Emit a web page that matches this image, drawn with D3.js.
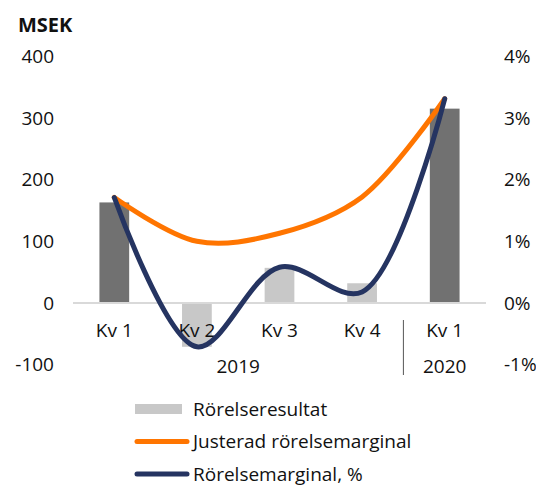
<!DOCTYPE html>
<html>
<head>
<meta charset="utf-8">
<script src="https://cdn.jsdelivr.net/npm/d3@7"></script>
<style>
  body { margin: 0; background: #fff; }
  svg { display: block; font-family: "Open Sans", Lato, sans-serif; }
</style>
</head>
<body>
<div id="chart"></div>
<script>
const quarters = ['Kv 1', 'Kv 2', 'Kv 3', 'Kv 4', 'Kv 1 '];
const years = [
  { label: '2019', from: 0, to: 3 },
  { label: '2020', from: 4, to: 4 }
];
const rorelseresultat = [163, -71, 57, 32, 315];
const justeradMarginal = [1.71, 1.0, 1.13, 1.72, 3.31];
const rorelseMarginal = [1.71, -0.71, 0.58, 0.18, 3.31];
const leftTicks = [-100, 0, 100, 200, 300, 400];
const rightTicks = [-1, 0, 1, 2, 3, 4];

const width = 536, height = 486;

const svg = d3.select('#chart')
  .append('svg')
  .attr('width', width)
  .attr('height', height);

const x = d3.scaleBand()
  .domain(d3.range(quarters.length))
  .range([73, 486])
  .paddingInner(0.64)
  .paddingOuter(0.32);

const y = d3.scaleLinear().domain([-100, 400]).range([364.7, 56.2]);
const y2 = d3.scaleLinear().domain([-1, 4]).range([364.7, 56.2]);

const cx = i => x(i) + x.bandwidth() / 2;

// bars
svg.append('g')
  .selectAll('rect')
  .data(rorelseresultat)
  .join('rect')
  .attr('x', (d, i) => x(i))
  .attr('width', x.bandwidth())
  .attr('y', d => y(Math.max(0, d)))
  .attr('height', d => Math.abs(y(d) - y(0)))
  .attr('fill', (d, i) => (i === 0 || i === 4) ? '#717171' : '#c8c8c8');

// zero line
svg.append('line')
  .attr('x1', 73).attr('x2', 486)
  .attr('y1', y(0)).attr('y2', y(0))
  .attr('stroke', '#d9d9d9')
  .attr('stroke-width', 2);

// left axis
svg.append('g')
  .selectAll('text')
  .data(leftTicks)
  .join('text')
  .attr('x', 54)
  .attr('y', d => y(d))
  .attr('dy', '0.35em')
  .attr('text-anchor', 'end')
  .attr('font-size', 19)
  .attr('fill', '#111')
  .text(d => d);

// right axis
svg.append('g')
  .selectAll('text')
  .data(rightTicks)
  .join('text')
  .attr('x', 504)
  .attr('y', d => y2(d))
  .attr('dy', '0.35em')
  .attr('text-anchor', 'start')
  .attr('font-size', 19)
  .attr('fill', '#111')
  .text(d => d + '%');

svg.append('text')
  .attr('x', 18)
  .attr('y', 25)
  .attr('dy', '0.35em')
  .attr('font-size', 20)
  .attr('font-weight', 'bold')
  .attr('fill', '#111')
  .text('MSEK');

// category labels
svg.append('g')
  .selectAll('text')
  .data(quarters)
  .join('text')
  .attr('x', (d, i) => cx(i))
  .attr('y', 330)
  .attr('dy', '0.35em')
  .attr('text-anchor', 'middle')
  .attr('font-size', 19)
  .attr('fill', '#111')
  .text(d => d.trim());

svg.append('g')
  .selectAll('text')
  .data(years)
  .join('text')
  .attr('x', d => (cx(d.from) + cx(d.to)) / 2)
  .attr('y', 366)
  .attr('dy', '0.35em')
  .attr('text-anchor', 'middle')
  .attr('font-size', 19)
  .attr('fill', '#111')
  .text(d => d.label);

svg.append('line')
  .attr('x1', (cx(3) + cx(4)) / 2).attr('x2', (cx(3) + cx(4)) / 2)
  .attr('y1', 320).attr('y2', 375)
  .attr('stroke', '#555')
  .attr('stroke-width', 1);

// lines
const line = d3.line()
  .x((d, i) => cx(i))
  .y(d => y2(d))
  .curve(d3.curveCatmullRom.alpha(0.5));

svg.append('path')
  .datum(justeradMarginal)
  .attr('d', line)
  .attr('fill', 'none')
  .attr('stroke', '#ff7500')
  .attr('stroke-width', 5)
  .attr('stroke-linecap', 'round');

svg.append('path')
  .datum(rorelseMarginal)
  .attr('d', line)
  .attr('fill', 'none')
  .attr('stroke', '#253461')
  .attr('stroke-width', 5)
  .attr('stroke-linecap', 'round');

// legend
const legend = [
  { label: 'Rörelseresultat', type: 'bar', color: '#c8c8c8' },
  { label: 'Justerad rörelsemarginal', type: 'line', color: '#ff7500' },
  { label: 'Rörelsemarginal, %', type: 'line', color: '#253461' }
];
const lg = svg.append('g')
  .selectAll('g')
  .data(legend)
  .join('g')
  .attr('transform', (d, i) => `translate(135,${409 + i * 32.5})`);

lg.filter(d => d.type === 'bar')
  .append('rect')
  .attr('x', 0).attr('y', -5)
  .attr('width', 47).attr('height', 10)
  .attr('fill', d => d.color);

lg.filter(d => d.type === 'line')
  .append('line')
  .attr('x1', 2).attr('x2', 52)
  .attr('y1', 0).attr('y2', 0)
  .attr('stroke', d => d.color)
  .attr('stroke-width', 5)
  .attr('stroke-linecap', 'round');

lg.append('text')
  .attr('x', 58)
  .attr('y', 0)
  .attr('dy', '0.35em')
  .attr('font-size', 19)
  .attr('fill', '#111')
  .text(d => d.label);
</script>
</body>
</html>
